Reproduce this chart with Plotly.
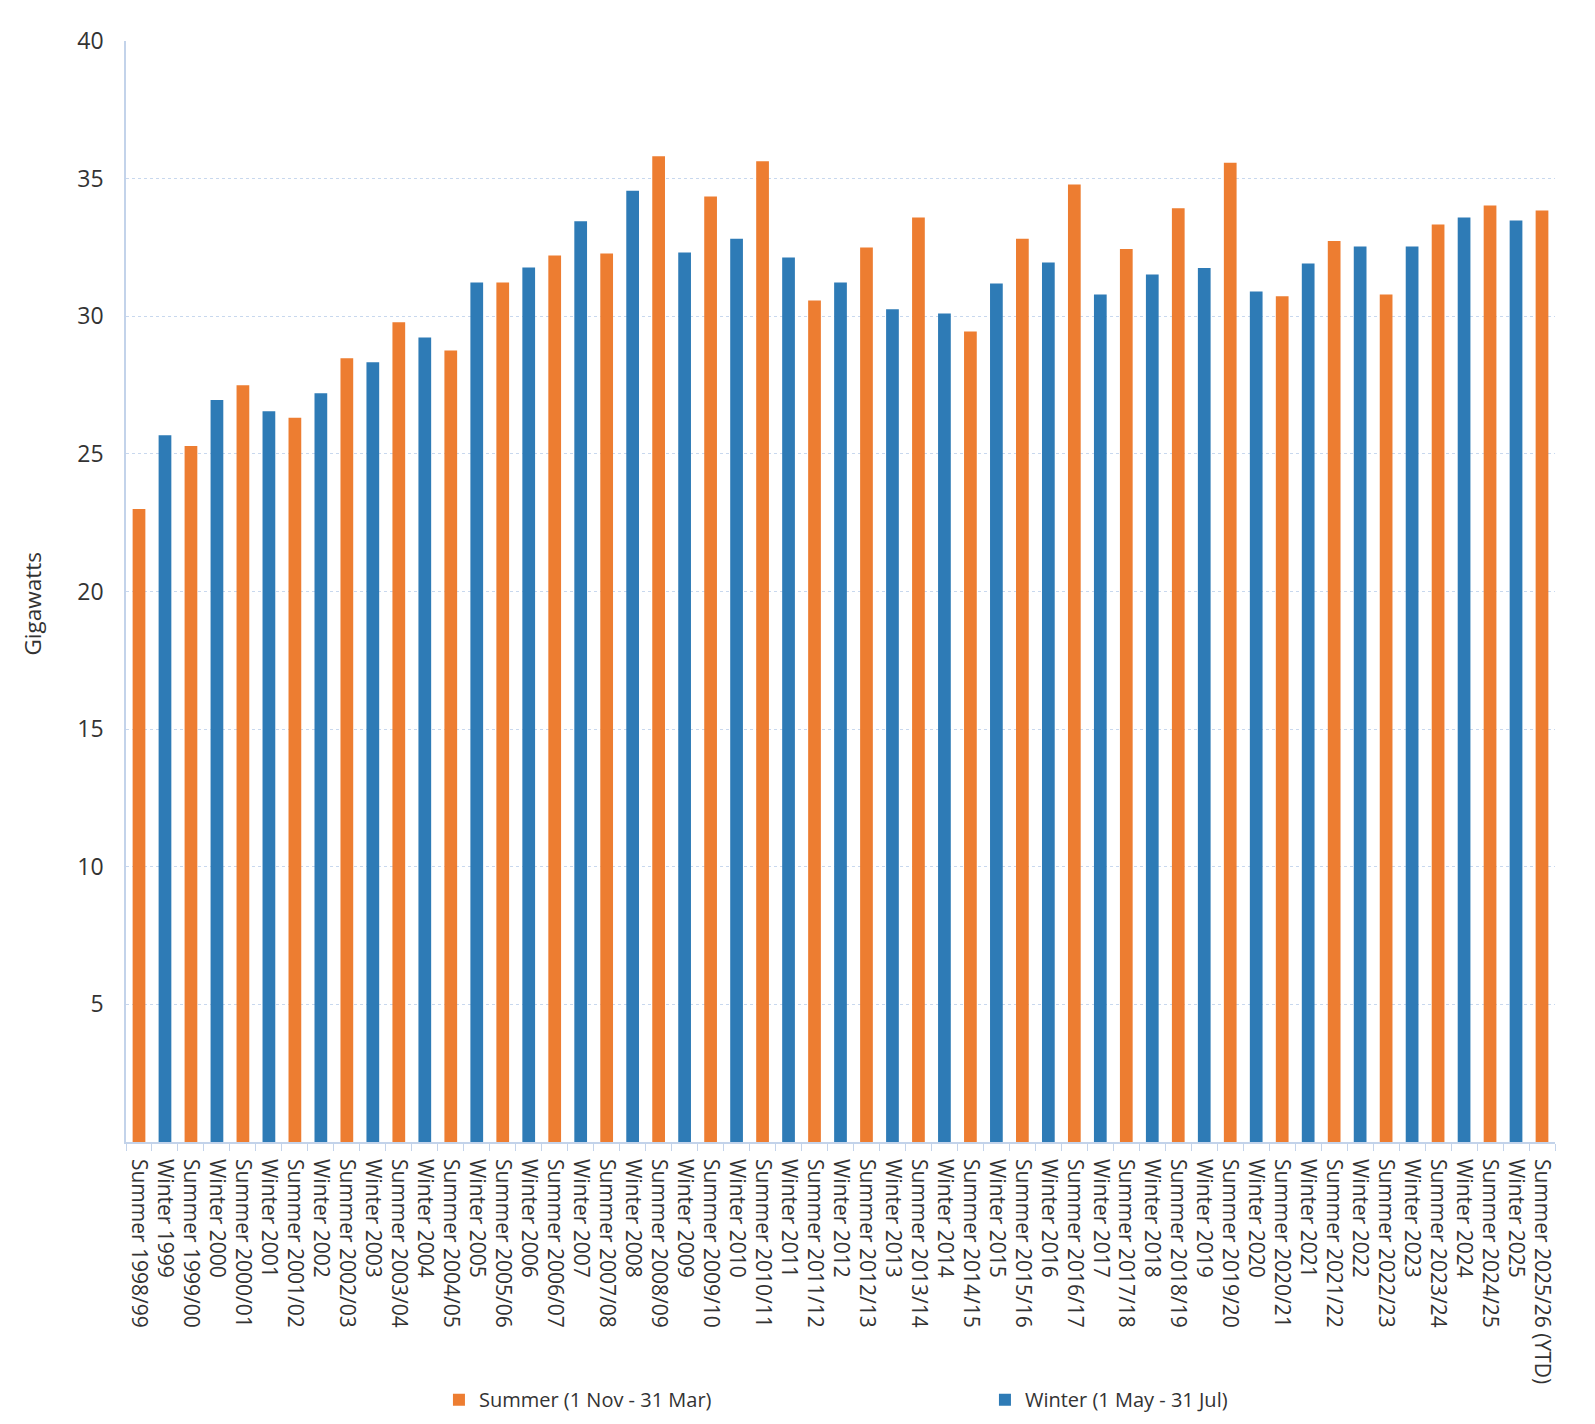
import plotly.graph_objects as go

category_order = [
    "Summer 1998/99", "Winter 1999", "Summer 1999/00", "Winter 2000", "Summer 2000/01",
    "Winter 2001", "Summer 2001/02", "Winter 2002", "Summer 2002/03", "Winter 2003",
    "Summer 2003/04", "Winter 2004", "Summer 2004/05", "Winter 2005", "Summer 2005/06",
    "Winter 2006", "Summer 2006/07", "Winter 2007", "Summer 2007/08", "Winter 2008",
    "Summer 2008/09", "Winter 2009", "Summer 2009/10", "Winter 2010", "Summer 2010/11",
    "Winter 2011", "Summer 2011/12", "Winter 2012", "Summer 2012/13", "Winter 2013",
    "Summer 2013/14", "Winter 2014", "Summer 2014/15", "Winter 2015", "Summer 2015/16",
    "Winter 2016", "Summer 2016/17", "Winter 2017", "Summer 2017/18", "Winter 2018",
    "Summer 2018/19", "Winter 2019", "Summer 2019/20", "Winter 2020", "Summer 2020/21",
    "Winter 2021", "Summer 2021/22", "Winter 2022", "Summer 2022/23", "Winter 2023",
    "Summer 2023/24", "Winter 2024", "Summer 2024/25", "Winter 2025", "Summer 2025/26 (YTD)",
]

summer_labels = [
    "Summer 1998/99", "Summer 1999/00", "Summer 2000/01", "Summer 2001/02", "Summer 2002/03",
    "Summer 2003/04", "Summer 2004/05", "Summer 2005/06", "Summer 2006/07", "Summer 2007/08",
    "Summer 2008/09", "Summer 2009/10", "Summer 2010/11", "Summer 2011/12", "Summer 2012/13",
    "Summer 2013/14", "Summer 2014/15", "Summer 2015/16", "Summer 2016/17", "Summer 2017/18",
    "Summer 2018/19", "Summer 2019/20", "Summer 2020/21", "Summer 2021/22", "Summer 2022/23",
    "Summer 2023/24", "Summer 2024/25", "Summer 2025/26 (YTD)",
]
summer_values = [
    23.00, 25.29, 27.49, 26.31, 28.47, 29.78, 28.76, 31.23, 32.21, 32.28,
    35.81, 34.35, 35.63, 30.57, 32.50, 33.59, 29.45, 32.82, 34.79, 32.44,
    33.92, 35.58, 30.73, 32.73, 30.79, 33.33, 34.02, 33.84,
]

winter_labels = [
    "Winter 1999", "Winter 2000", "Winter 2001", "Winter 2002", "Winter 2003",
    "Winter 2004", "Winter 2005", "Winter 2006", "Winter 2007", "Winter 2008",
    "Winter 2009", "Winter 2010", "Winter 2011", "Winter 2012", "Winter 2013",
    "Winter 2014", "Winter 2015", "Winter 2016", "Winter 2017", "Winter 2018",
    "Winter 2019", "Winter 2020", "Winter 2021", "Winter 2022", "Winter 2023",
    "Winter 2024", "Winter 2025",
]
winter_values = [
    25.68, 26.96, 26.55, 27.20, 28.33, 29.23, 31.23, 31.77, 33.45, 34.56,
    32.32, 32.82, 32.13, 31.23, 30.25, 30.10, 31.19, 31.95, 30.79, 31.52,
    31.75, 30.90, 31.92, 32.53, 32.53, 33.59, 33.48,
]

y_ticks = [5, 10, 15, 20, 25, 30, 35, 40]
y_title = "Gigawatts"

ORANGE = "#ED7D31"
BLUE = "#2E7BB6"
AXIS = "#c3d3ea"
GRID = "#c8d8ee"
TEXT = "#333333"
FONT = "Open Sans, Noto Sans, sans-serif"

fig = go.Figure()
fig.add_trace(go.Bar(
    x=summer_labels, y=summer_values, name="Summer (1 Nov - 31 Mar)",
    marker=dict(color=ORANGE, line=dict(width=0)), width=0.49,
))
fig.add_trace(go.Bar(
    x=winter_labels, y=winter_values, name="Winter (1 May - 31 Jul)",
    marker=dict(color=BLUE, line=dict(width=0)), width=0.49,
))

fig.update_layout(
    width=1595, height=1424,
    margin=dict(l=118, r=48, t=33, b=290, autoexpand=False),
    paper_bgcolor="white", plot_bgcolor="white",
    barmode="overlay",
    font=dict(family=FONT, size=20, color=TEXT),
    showlegend=True,
    legend=dict(
        orientation="h", x=0.219, xanchor="left", y=-0.234, yanchor="middle",
        entrywidth=501, entrywidthmode="pixels",
        font=dict(family=FONT, size=20, color=TEXT),
        traceorder="normal",
    ),
    annotations=[dict(
        text=y_title, textangle=-90, showarrow=False,
        xref="paper", yref="paper", x=0, y=0.5, xanchor="center", yanchor="middle",
        xshift=-94, yshift=-13,
        font=dict(family=FONT, size=22.5, color=TEXT),
    )],
)

fig.update_xaxes(
    type="category", categoryorder="array", categoryarray=category_order,
    tickangle=90, tickfont=dict(family=FONT, size=21, color=TEXT),
    showline=True, linecolor=AXIS, linewidth=1.5,
    ticks="outside", tickson="boundaries", ticklen=7, tickcolor=AXIS, tickwidth=1,
    showgrid=False, ticklabelstandoff=11,
)
fig.update_yaxes(
    range=[0, 40], tickvals=y_ticks, ticktext=[str(v) for v in y_ticks],
    tickfont=dict(family=FONT, size=23, color=TEXT),
    showline=True, linecolor=AXIS, linewidth=1.5,
    showgrid=True, gridcolor=GRID, griddash="dot", gridwidth=1,
    ticks="", ticklabelstandoff=16, zeroline=False,
)

fig.write_html("out.html")
